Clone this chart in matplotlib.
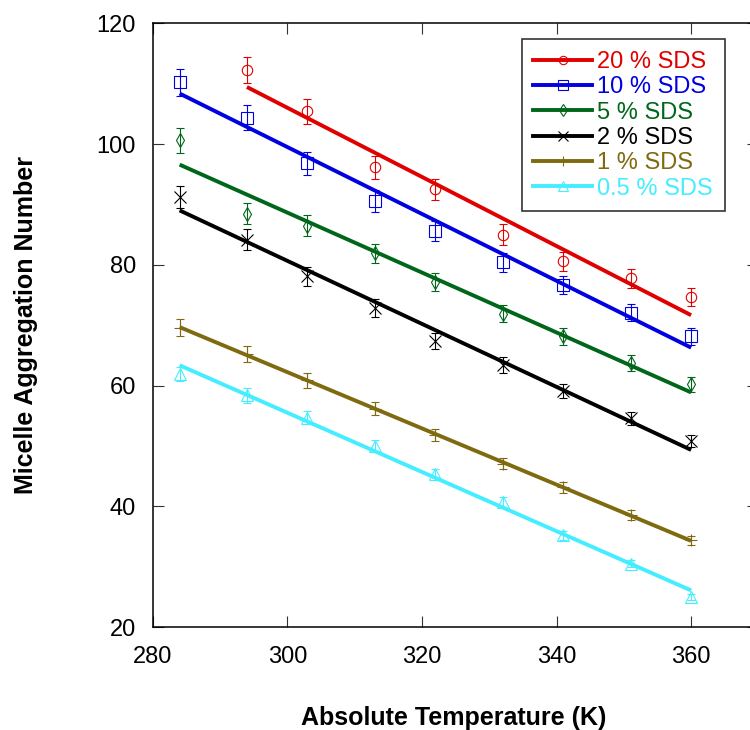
import numpy as np
import matplotlib
matplotlib.use("Agg")
import matplotlib.pyplot as plt
from matplotlib.lines import Line2D

plt.rcParams['font.family'] = ['Liberation Sans', 'DejaVu Sans']

# temperatures (K)
temps = [284, 294, 303, 313, 322, 332, 341, 351, 360]
temps_20 = [294, 303, 313, 322, 332, 341, 351, 360]

# aggregation numbers
n20 = [112.3, 105.4, 96.2, 92.5, 85.0, 80.6, 77.8, 74.7]
n10 = [110.2, 104.4, 96.8, 90.6, 85.6, 80.4, 76.6, 72.1, 68.2]
n5 = [100.6, 88.5, 86.5, 81.9, 77.2, 71.9, 68.2, 63.7, 60.2]
n2 = [91.2, 84.2, 78.1, 72.8, 67.4, 63.4, 59.1, 54.6, 50.9]
n1 = [69.6, 65.3, 60.9, 56.2, 51.8, 47.1, 43.2, 38.6, 34.4]
n05 = [61.9, 58.4, 54.7, 50.0, 45.3, 40.7, 35.2, 30.5, 25.0]

# error bars
e20 = [2.2, 2.1, 1.9, 1.8, 1.7, 1.6, 1.6, 1.5]
e10 = [2.2, 2.1, 1.9, 1.8, 1.7, 1.6, 1.5, 1.4, 1.4]
e5 = [2.0, 1.8, 1.7, 1.6, 1.5, 1.4, 1.4, 1.3, 1.2]
e2 = [1.8, 1.7, 1.6, 1.5, 1.3, 1.3, 1.2, 1.1, 1.0]
e1 = [1.4, 1.3, 1.2, 1.1, 1.0, 0.9, 0.9, 0.8, 0.7]
e05 = [1.2, 1.2, 1.1, 1.0, 0.9, 0.8, 0.7, 0.6, 0.5]

labels = ['20 % SDS', '10 % SDS', '5 % SDS', '2 % SDS', '1 % SDS', '0.5 % SDS']
colors = ['#e00000', '#0000e0', '#00661a', '#000000', '#7f6a0f', '#44eeff']
markers = ['o', 's', 'd', 'x', '+', '^']
msizes = [7.5, 8, 7.5, 8.5, 8, 8]

series = [
    (temps_20, n20, e20),
    (temps, n10, e10),
    (temps, n5, e5),
    (temps, n2, e2),
    (temps, n1, e1),
    (temps, n05, e05),
]

fig = plt.figure(figsize=(7.5, 7.3), dpi=100)
ax = fig.add_axes([0.2036, 0.1407, 0.8076, 0.8274])

handles = []
for (tx, ny, ey), lab, col, mk, ms in zip(series, labels, colors, markers, msizes):
    ax.errorbar(tx, ny, yerr=ey, fmt=mk, color=col, mfc='none', mec=col,
                ms=ms, mew=0.8, elinewidth=0.8, capsize=3, capthick=0.8, zorder=2)
    # least squares line through the points
    k, b = np.polyfit(tx, ny, 1)
    xx = np.array([tx[0], tx[-1]])
    ax.plot(xx, k * xx + b, color=col, lw=2.8, solid_capstyle='butt', zorder=3)
    handles.append(Line2D([], [], color=col, lw=2.8, marker=mk, mfc='none',
                          mec=col, ms=ms - 1.5, mew=0.8))

ax.set_xlim(280, 370)
ax.set_ylim(20, 120)
ax.set_xticks([280, 300, 320, 340, 360])
ax.set_yticks([20, 40, 60, 80, 100, 120])

ax.tick_params(direction='in', length=8, width=0.8, color='#333333',
               top=True, right=True, labelsize=17)
ax.tick_params(axis='x', pad=13.5)
ax.tick_params(axis='y', pad=12)
for s in ax.spines.values():
    s.set_linewidth(1.1)

ax.set_xlabel('Absolute Temperature (K)', fontsize=18, fontweight='bold')
ax.set_ylabel('Micelle Aggregation Number', fontsize=18, fontweight='bold')
ax.xaxis.set_label_coords(0.497, -0.131)
ax.yaxis.set_label_coords(-0.190, 0.5)

leg = ax.legend(handles, labels, loc='upper left', bbox_to_anchor=(0.609, 0.9735),
                borderaxespad=0, fontsize=17, numpoints=1, handlelength=2.5,
                handletextpad=0.2, labelspacing=0.14, borderpad=0.5,
                fancybox=False, framealpha=1, edgecolor='#333333')
leg.get_frame().set_linewidth(1.2)
for txt, col in zip(leg.get_texts(), colors):
    txt.set_color(col)

fig.savefig('out.png', dpi=100)
